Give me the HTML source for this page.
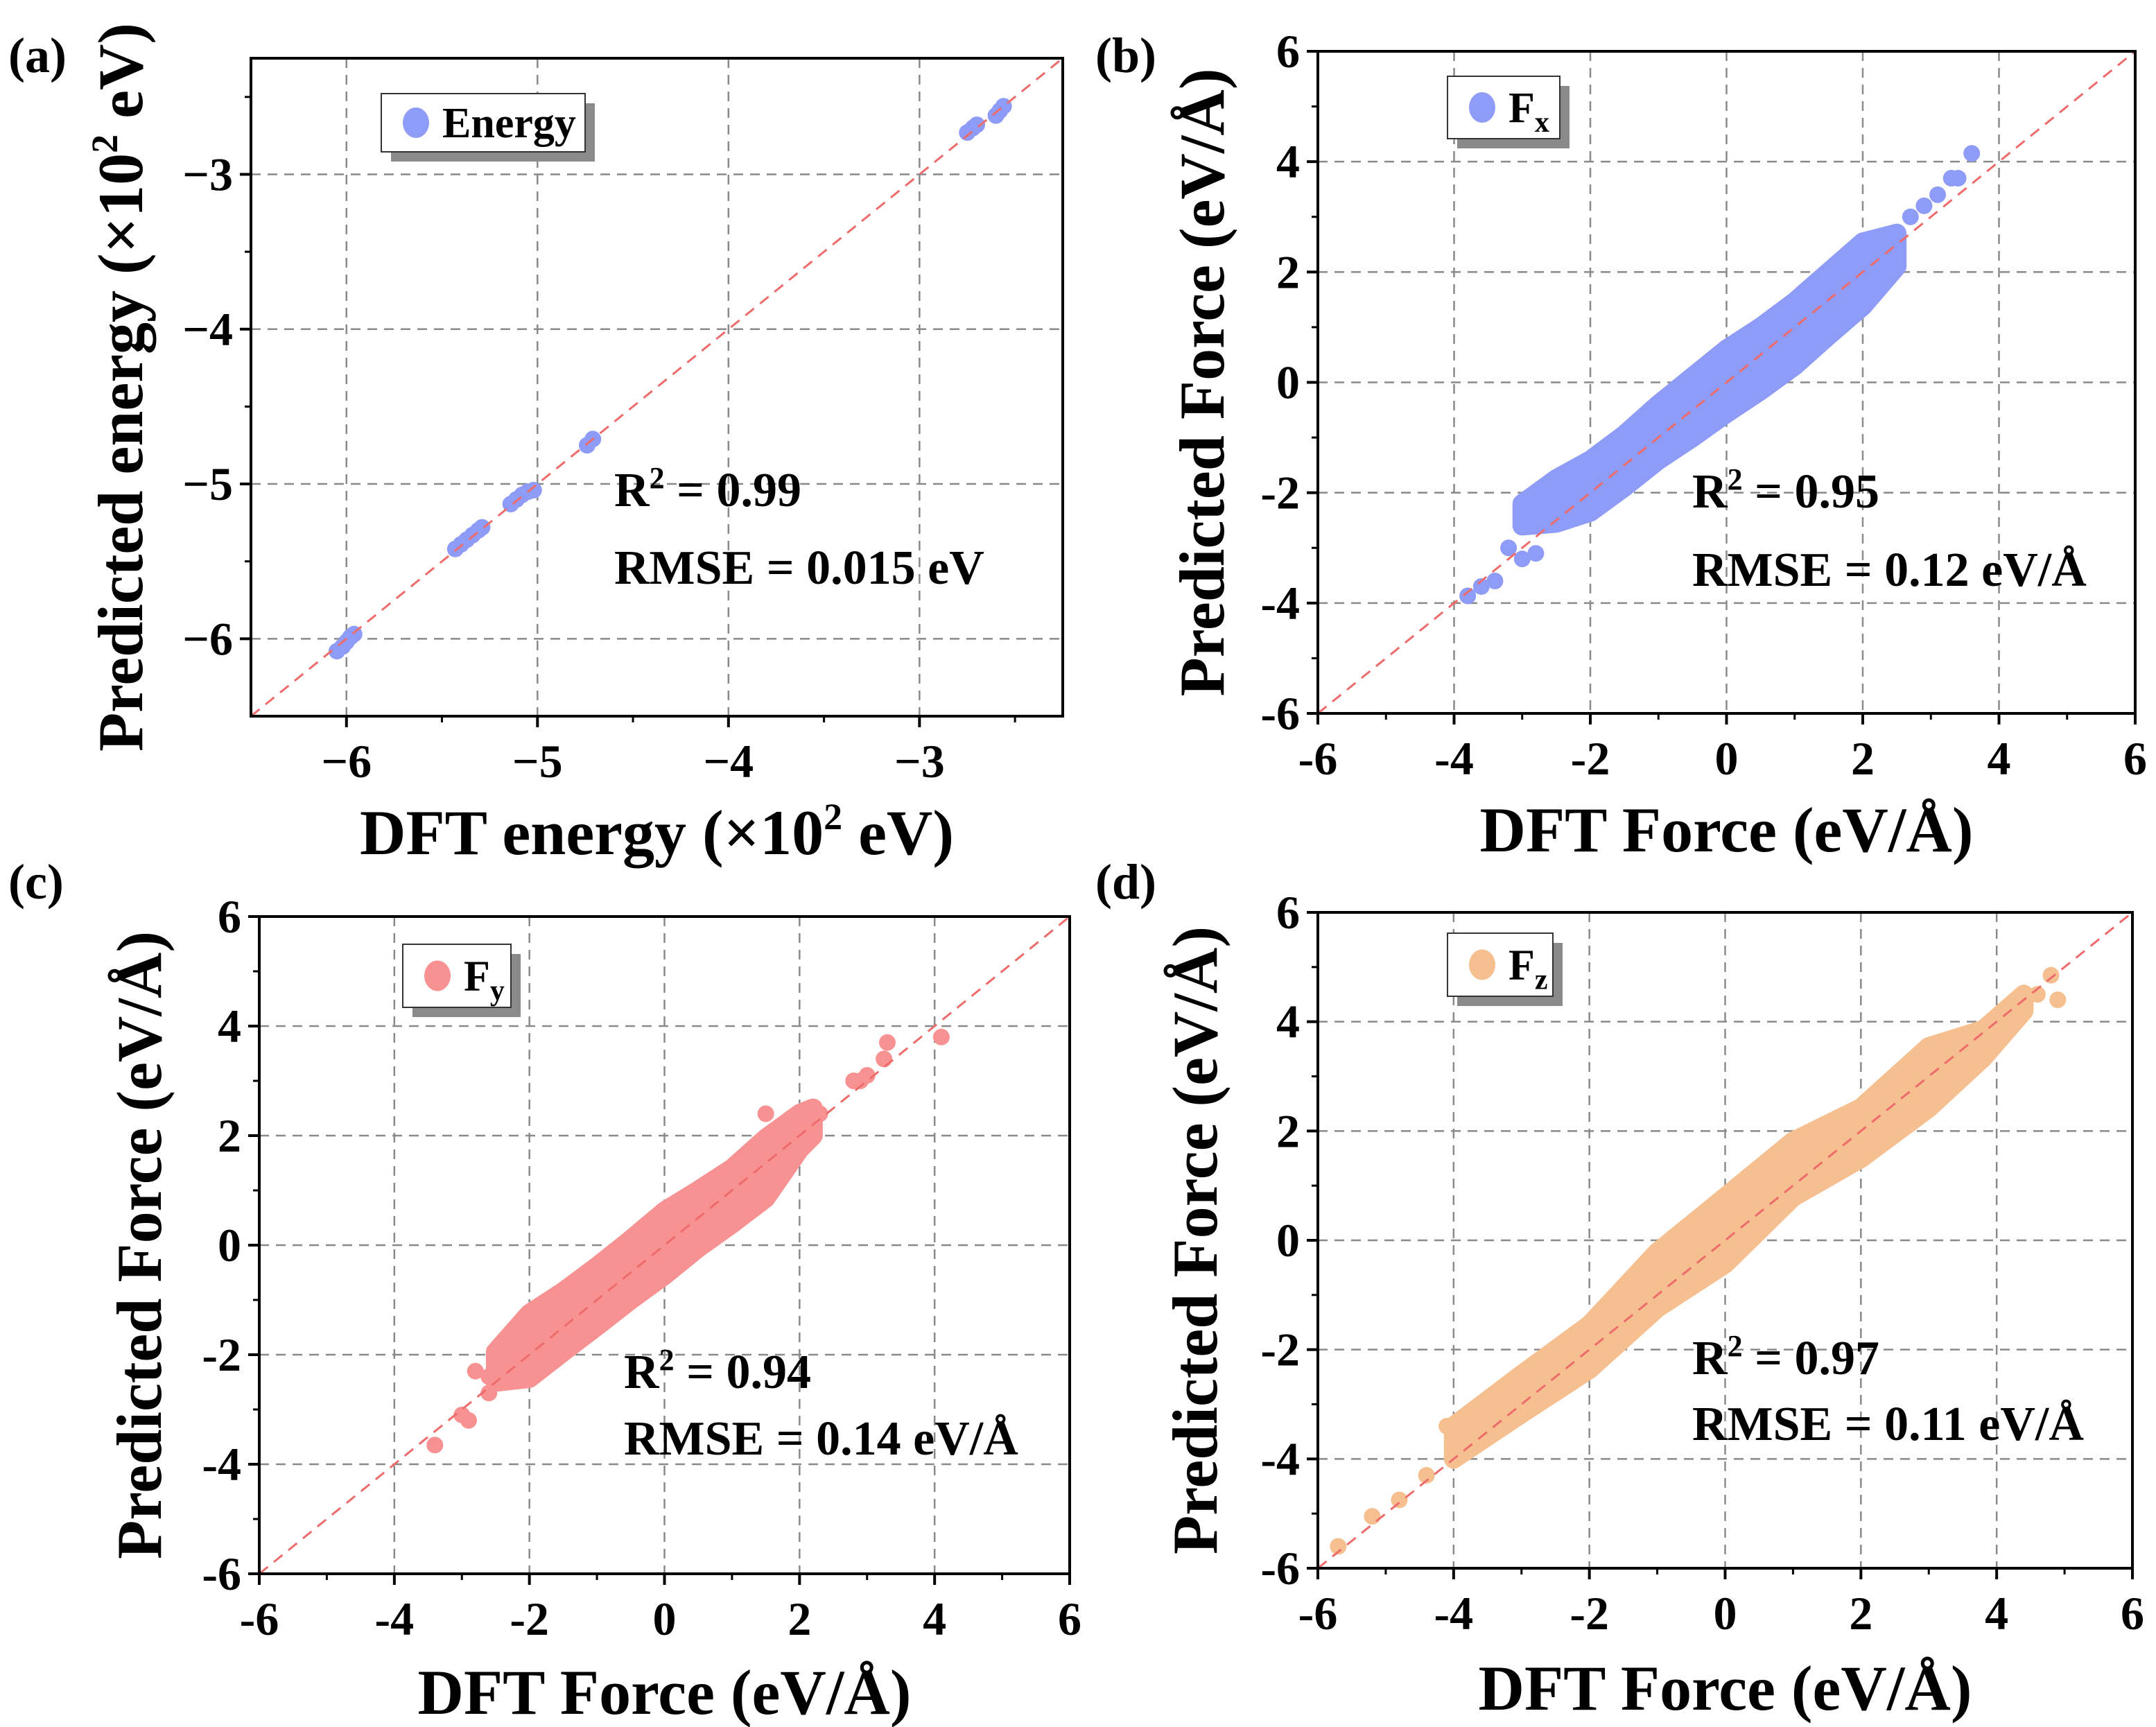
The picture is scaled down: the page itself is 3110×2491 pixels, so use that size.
<!DOCTYPE html>
<html><head><meta charset="utf-8"><style>
html,body{margin:0;padding:0;background:#fff;}
svg{display:block;}
svg text{font-family:"Liberation Serif","Times New Roman",serif;font-weight:bold;}
</style></head><body>
<svg id="fig" width="3110" height="2491" viewBox="0 0 3110 2491" xmlns="http://www.w3.org/2000/svg"></svg>
<script>
// ---- data ----
const energyX = [-6.05,-6.02,-6.0,-5.98,-5.96,-5.43,-5.4,-5.37,-5.34,-5.31,-5.29,-5.14,-5.11,-5.08,-5.05,-5.02,-4.74,-4.71,-2.75,-2.72,-2.7,-2.6,-2.58,-2.56];
const energyY = [-6.08,-6.05,-6.02,-5.99,-5.97,-5.42,-5.39,-5.36,-5.33,-5.3,-5.28,-5.13,-5.1,-5.07,-5.05,-5.04,-4.75,-4.71,-2.73,-2.7,-2.68,-2.62,-2.59,-2.56];
const energyTicks = [-6,-5,-4,-3];
const energyTickLabels = ["\u22126","\u22125","\u22124","\u22123"];

const forceTicks = [-6,-4,-2,0,2,4,6];
const forceTickLabels = ["-6","-4","-2","0","2","4","6"];

const fxBandX = [-3,-2.5,-2,-1.5,-1,-0.5,0,0.5,1,1.5,2,2.5];
const fxBandTop = [-2.2,-1.75,-1.41,-0.95,-0.4,0.1,0.6,1.0,1.46,2.0,2.54,2.7];
const fxBandBot = [-2.6,-2.55,-2.35,-1.9,-1.41,-1.0,-0.56,-0.15,0.3,0.85,1.38,2.1];
const fxOutX = [3.6,3.4,3.3,3.1,2.9,2.7,-3.8,-3.6,-3.4,-3.0,-3.2,-2.9,-2.8];
const fxOutY = [4.15,3.7,3.7,3.4,3.2,3.0,-3.87,-3.7,-3.6,-3.2,-3.0,-2.5,-3.1];

const fyBandX = [-2.5,-2,-1.5,-1,-0.5,0,0.5,1,1.5,2,2.2];
const fyBandTop = [-1.95,-1.25,-0.85,-0.39,0.1,0.62,1.0,1.4,1.95,2.4,2.5];
const fyBandBot = [-2.5,-2.43,-1.95,-1.48,-1.0,-0.55,-0.05,0.39,0.86,1.75,2.0];
const fyOutX = [4.1,3.3,3.25,2.8,2.9,3.0,2.3,1.5,-2.8,-2.6,-3.0,-2.9,-3.4,-2.6];
const fyOutY = [3.8,3.7,3.4,3.0,3.0,3.1,2.4,2.4,-2.3,-2.4,-3.1,-3.2,-3.65,-2.7];

const fzBandX = [-4,-3,-2,-1,0,1,2,3,3.8,4.4];
const fzBandTop = [-3.4,-2.46,-1.55,-0.22,0.79,1.81,2.42,3.54,3.85,4.5];
const fzBandBot = [-4.0,-3.17,-2.36,-1.24,-0.43,0.79,1.5,2.42,3.34,4.2];
const fzOutX = [-5.7,-5.2,-4.8,-4.4,4.8,4.9,-4.1,4.6];
const fzOutY = [-5.6,-5.05,-4.75,-4.3,4.85,4.4,-3.4,4.5];

const NS = "http://www.w3.org/2000/svg";
const svg = document.getElementById('fig');
function el(tag, attrs, parent, text){
  const e = document.createElementNS(NS, tag);
  for (const k in attrs) e.setAttribute(k, attrs[k]);
  if (text !== undefined) e.textContent = text;
  (parent||svg).appendChild(e);
  return e;
}

function panel(o){
  const g = el('g', {});
  
  
  const sx = v => o.L + (v - o.min) / (o.max - o.min) * (o.R - o.L);
  const sy = v => o.B - (v - o.min) / (o.max - o.min) * (o.B - o.T);
  o.ticks.forEach(t => {
    if (sx(t) > o.L + 2 && sx(t) < o.R - 2) {
      const gl = el('line', {x1:sx(t), x2:sx(t), y1:o.T, y2:o.B, stroke:'#8a8a8a', 'stroke-width':2.5, 'stroke-dasharray':'14 10'}, g);
      
      
    }
    if (sy(t) > o.T + 2 && sy(t) < o.B - 2) {
      const gl = el('line', {x1:o.L, x2:o.R, y1:sy(t), y2:sy(t), stroke:'#8a8a8a', 'stroke-width':2.5, 'stroke-dasharray':'14 10'}, g);
      
      
    }
  });
  if (o.bandX) {
    let d = '';
    o.bandX.forEach((x,i) => { d += (i ? 'L' : 'M') + sx(x) + ' ' + sy(o.bandTop[i]); });
    for (let i = o.bandX.length - 1; i >= 0; i--) d += 'L' + sx(o.bandX[i]) + ' ' + sy(o.bandBot[i]);
    d += 'Z';
    const p = el('path', {d, fill:o.color, stroke:o.color, 'stroke-width':28, 'stroke-linejoin':'round'}, g);
    
    
  }
  o.px.forEach((x,i) => {
    const c = el('circle', {cx:sx(x), cy:sy(o.py[i]), r:12, fill:o.color}, g);
    
    
  });
  const dg = el('line', {x1:sx(o.min), y1:sy(o.min), x2:sx(o.max), y2:sy(o.max), stroke:'#ee6b6b', 'stroke-width':3, 'stroke-dasharray':'16 11'}, g);
  
  
  const fr = el('rect', {x:o.L, y:o.T, width:o.R-o.L, height:o.B-o.T, fill:'none', stroke:'#000', 'stroke-width':4}, g);
  
  
  o.ticks.forEach((t,i) => {
    const tx = el('line', {x1:sx(t), x2:sx(t), y1:o.B, y2:o.B+16, stroke:'#000', 'stroke-width':4}, g);
    
    
    const ty = el('line', {x1:o.L-16, x2:o.L, y1:sy(t), y2:sy(t), stroke:'#000', 'stroke-width':4}, g);
    
    
    const lx = el('text', {x:sx(t), y:o.B+88, 'font-size':68, 'text-anchor':'middle'}, g, o.labels[i]);
    
    
    const ly = el('text', {x:o.L-26, y:sy(t)+23, 'font-size':68, 'text-anchor':'end'}, g, o.labels[i]);
    
    
  });
  o.minor.forEach(t => {
    if (sx(t) > o.L && sx(t) < o.R) {
      const m = el('line', {x1:sx(t), x2:sx(t), y1:o.B, y2:o.B+9, stroke:'#000', 'stroke-width':3}, g);
      
      
    }
    if (sy(t) > o.T && sy(t) < o.B) {
      const m = el('line', {x1:o.L-9, x2:o.L, y1:sy(t), y2:sy(t), stroke:'#000', 'stroke-width':3}, g);
      
      
    }
  });
  const xt = el('text', {x:(o.L+o.R)/2, y:o.xtY, 'font-size':92, 'text-anchor':'middle'}, g);
  
  
  xt.innerHTML = o.xTitle;
  const yt = el('text', {x:0, y:0, 'font-size':92, 'text-anchor':'middle', transform:`translate(${o.ytX},${(o.T+o.B)/2}) rotate(-90)`}, g);
  
  
  yt.innerHTML = o.yTitle;
  const lg = el('g', {}, g);
  
  
  const [lx0, ly0, lw, lh] = o.leg;
  el('rect', {x:lx0+14, y:ly0+14, width:lw, height:lh, fill:'#8a8a8a'}, lg);
  el('rect', {x:lx0, y:ly0, width:lw, height:lh, fill:'#fff', stroke:'#333', 'stroke-width':2}, lg);
  const lm = el('ellipse', {cx:lx0+50, cy:ly0+lh/2, rx:19, ry:22, fill:o.color}, lg);
  
  
  const lt = el('text', {x:lx0+88, y:ly0+lh/2+21, 'font-size':62}, lg);
  
  
  lt.innerHTML = o.legText;
  const a1 = el('text', {x:o.ann[0], y:o.ann[1], 'font-size':70}, g);
  
  
  a1.innerHTML = 'R<tspan font-size="44" dy="-26">2</tspan><tspan dy="26"> = ' + o.r2 + '</tspan>';
  const a2 = el('text', {x:o.ann[0], y:o.ann[2], 'font-size':70}, g, 'RMSE = ' + o.rmse);
  
  
  const pl = el('text', {x:o.pl[0], y:o.pl[1], 'font-size':72}, g, o.plText);
  
  
}

const forceMinor = [-5,-3,-1,1,3,5];
const fT = 'DFT Force (eV/Å)', pT = 'Predicted Force (eV/Å)';
panel({name:'panel-a-energy', L:362,R:1533,T:84,B:1033,min:-6.5,max:-2.25, ticks:energyTicks, labels:energyTickLabels, minor:[-6.5,-5.5,-4.5,-3.5,-2.5],
  px:energyX, py:energyY, color:'#8f9cf7',
  xTitle:'DFT energy (×10<tspan font-size="54" dy="-36">2</tspan><tspan dy="36"> eV)</tspan>', xtY:1232,
  yTitle:'Predicted energy (×10<tspan font-size="54" dy="-36">2</tspan><tspan dy="36"> eV)</tspan>', ytX:205,
  leg:[550,135,294,84], legText:'Energy', ann:[886,730,842], r2:'0.99', rmse:'0.015 eV', pl:[12,104], plText:'(a)'});
panel({name:'panel-b-fx', L:1901,R:3080,T:74,B:1029,min:-6,max:6, ticks:forceTicks, labels:forceTickLabels, minor:forceMinor,
  bandX:fxBandX, bandTop:fxBandTop, bandBot:fxBandBot, px:fxOutX, py:fxOutY, color:'#8f9cf7',
  xTitle:fT, xtY:1228, yTitle:pT, ytX:1765,
  leg:[2088,110,162,90], legText:'F<tspan font-size="42" dy="14">x</tspan>', ann:[2441,732,845], r2:'0.95', rmse:'0.12 eV/Å', pl:[1580,104], plText:'(b)'});
panel({name:'panel-c-fy', L:374,R:1543,T:1322,B:2270,min:-6,max:6, ticks:forceTicks, labels:forceTickLabels, minor:forceMinor,
  bandX:fyBandX, bandTop:fyBandTop, bandBot:fyBandBot, px:fyOutX, py:fyOutY, color:'#f89292',
  xTitle:fT, xtY:2472, yTitle:pT, ytX:232,
  leg:[581,1362,156,91], legText:'F<tspan font-size="42" dy="14">y</tspan>', ann:[900,2002,2098], r2:'0.94', rmse:'0.14 eV/Å', pl:[12,1296], plText:'(c)'});
panel({name:'panel-d-fz', L:1901,R:3076,T:1316,B:2262,min:-6,max:6, ticks:forceTicks, labels:forceTickLabels, minor:forceMinor,
  bandX:fzBandX, bandTop:fzBandTop, bandBot:fzBandBot, px:fzOutX, py:fzOutY, color:'#f6bf90',
  xTitle:fT, xtY:2466, yTitle:pT, ytX:1755,
  leg:[2088,1346,152,91], legText:'F<tspan font-size="42" dy="14">z</tspan>', ann:[2441,1982,2077], r2:'0.97', rmse:'0.11 eV/Å', pl:[1580,1296], plText:'(d)'});
</script>
</body></html>
